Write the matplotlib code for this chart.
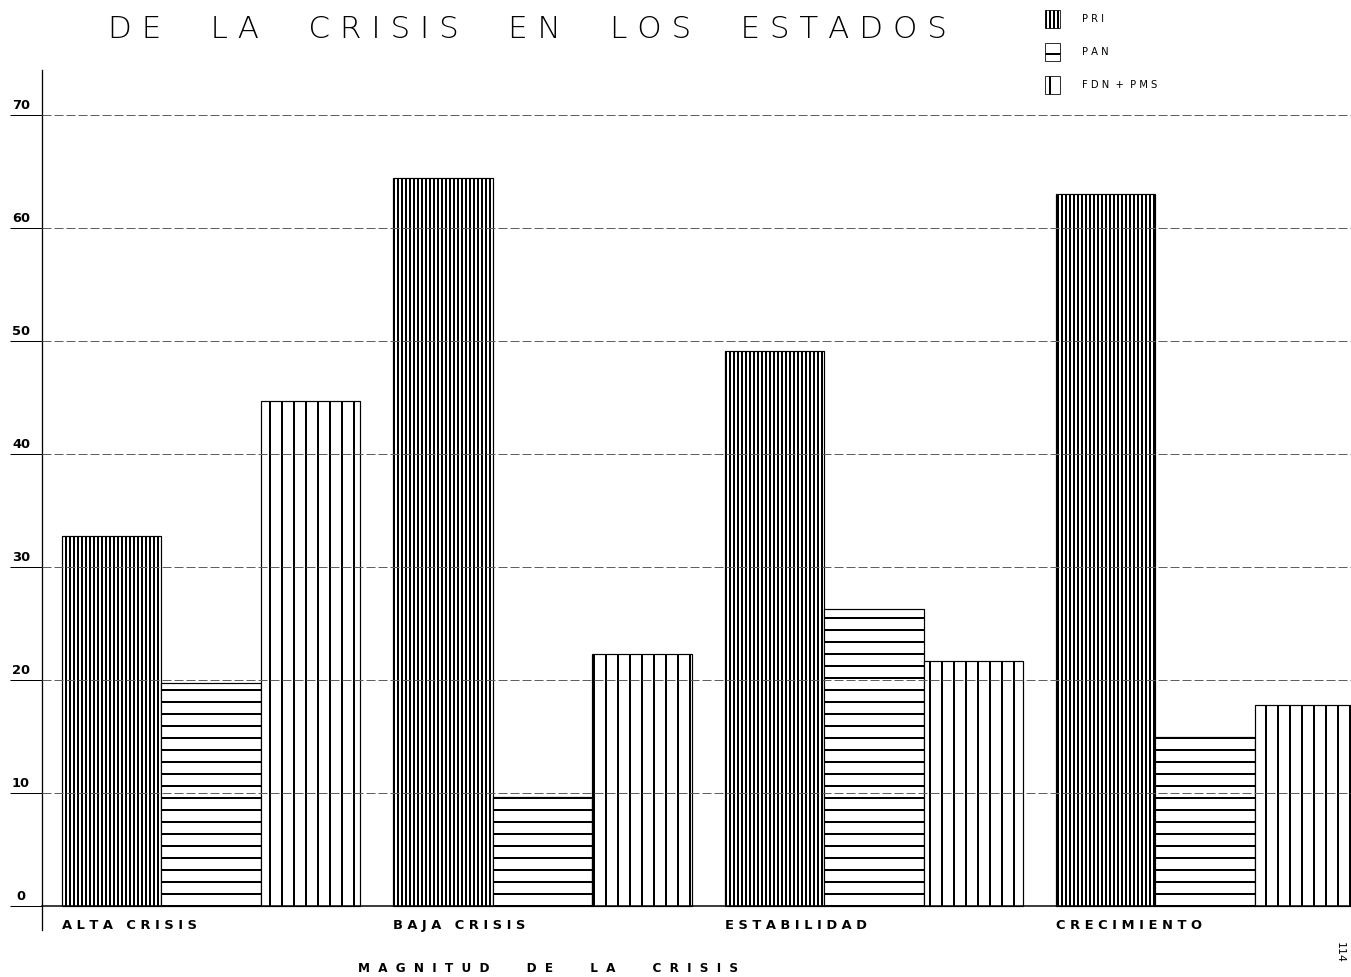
import numpy as np
import matplotlib
matplotlib.use("Agg")
import matplotlib.pyplot as plt
from matplotlib.patches import Patch

# datos (porcentajes)
categorias = ["ALTA CRISIS", "BAJA CRISIS", "ESTABILIDAD", "CRECIMIENTO"]
pri = [32.8, 64.4, 49.1, 63.0]
pan = [19.8, 9.7, 26.3, 15.0]
fdn_pms = [44.7, 22.3, 21.7, 17.8]
partidos = ["PRI", "PAN", "FDN + PMS"]
y_ticks = [0, 10, 20, 30, 40, 50, 60, 70]


def espaciar(txt, gap=3, sep=" "):
    # letras separadas, palabras con mas aire (rotulado tipo plantilla)
    return (" " * gap).join(sep.join(w) for w in txt.split())


plt.rcParams["hatch.linewidth"] = 2.0
plt.rcParams["hatch.color"] = "black"

fig = plt.figure(figsize=(1351 / 72, 977 / 72), dpi=72)
ax = fig.add_axes([42 / 1351, 47 / 977, 1 - 42 / 1351, (930 - 70) / 977])

x = np.arange(len(categorias))
w = 0.30
ax.bar(x - w, pri, w, facecolor="white", edgecolor="black", hatch="|||", linewidth=1.2)
ax.bar(x, pan, w, facecolor="white", edgecolor="black", hatch="-", linewidth=1.2)
ax.bar(x + w, fdn_pms, w, facecolor="white", edgecolor="black", hatch="|", linewidth=1.2)

ax.set_xlim(-0.51, 3.44)
ax.set_ylim(-2.1, 74)

# rejilla horizontal sobre las barras
ax.set_axisbelow(False)
for v in y_ticks[1:]:
    ax.axhline(v, color="#606060", lw=1.0, ls=(0, (9, 3)), zorder=3)

for s in ["top", "right"]:
    ax.spines[s].set_visible(False)
ax.spines["bottom"].set_position(("data", 0))
ax.spines["bottom"].set_linewidth(1.5)
ax.spines["left"].set_linewidth(1.3)

ax.set_xticks([])
ax.set_yticks(y_ticks)
ax.set_yticklabels([])
ax.tick_params(axis="y", direction="out", length=32, width=1.0, color="black")
for v in y_ticks:
    ax.annotate(str(v), xy=(0, v), xycoords=("axes fraction", "data"),
                xytext=(-21, 3), textcoords="offset points",
                ha="center", va="bottom", fontsize=13, fontweight="bold")

# rotulos de categoria alineados al inicio de cada grupo
for xi, cat in zip(x, categorias):
    ax.text(xi - 1.5 * w, -1.7, espaciar(cat, 3), ha="left", va="center",
            fontsize=13, fontweight="bold", clip_on=False)

fig.text(358 / 1351, 1 - 968 / 977, espaciar("MAGNITUD DE LA CRISIS", 9, "  "),
         ha="left", va="center", fontsize=12, fontweight="bold")

fig.text(527 / 1351, 1 - 30 / 977, espaciar("DE LA CRISIS EN LOS ESTADOS", 5),
         ha="center", va="center", fontsize=31, fontweight="light")

handles = [
    Patch(facecolor="white", edgecolor="black", hatch="|||", linewidth=0.8),
    Patch(facecolor="white", edgecolor="black", hatch="-", linewidth=0.8),
    Patch(facecolor="white", edgecolor="black", hatch="|", linewidth=0.8),
]
fig.legend(handles, [espaciar(p, 2) for p in partidos], loc="upper left",
           bbox_to_anchor=(1036 / 1351, 1 - 1 / 977), frameon=False,
           fontsize=10, handlelength=1.5, handleheight=2.4, labelspacing=1.5,
           handletextpad=2.2)

fig.text(1340 / 1351, 1 - 952 / 977, "114", rotation=-90, ha="center",
         va="center", fontsize=11)

fig.savefig("out.png", dpi=72, facecolor="white")
